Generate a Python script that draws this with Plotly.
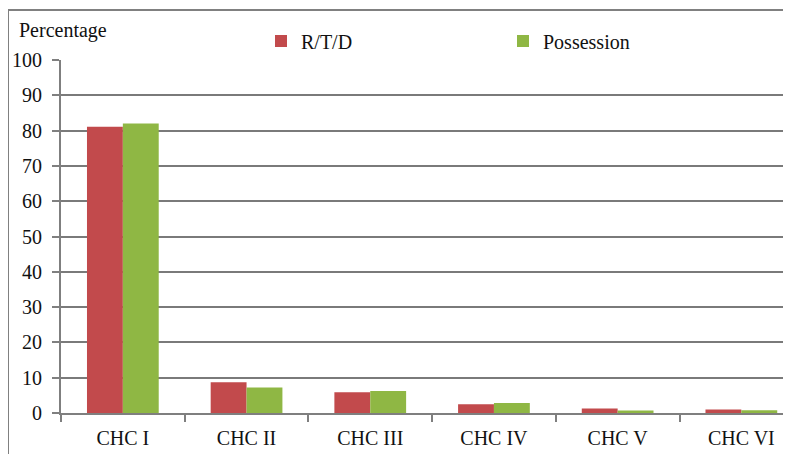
import plotly.graph_objects as go

categories = ["CHC I", "CHC II", "CHC III", "CHC IV", "CHC V", "CHC VI"]
rtd = [81.1, 8.7, 5.9, 2.5, 1.3, 1.0]
possession = [82.0, 7.2, 6.2, 2.8, 0.7, 0.8]
y_ticks = [0, 10, 20, 30, 40, 50, 60, 70, 80, 90, 100]

# page has an 8px body margin: figure is offset by 8px
OFF = 8
W, H = 791 - OFF, 454 - OFF
L, T, B, R = 61 - OFF, 60 - OFF, 41, 0
pw, ph = W - L - R, H - T - B

font = "Liberation Serif"

fig = go.Figure()
fig.add_bar(name="R/T/D", x=categories, y=rtd, marker=dict(color="#C24A4C", line=dict(width=0)))
fig.add_bar(name="Possession", x=categories, y=possession, marker=dict(color="#8FB744", line=dict(width=0)))

cat_px = 123.7
right_val = -0.5 + pw / cat_px


def px_x(x):
    return (x - OFF - L) / pw


def px_y(y):
    return 1 - (y - OFF - T) / ph


fig.update_layout(
    width=W, height=H,
    margin=dict(l=L, r=R, t=T, b=B, pad=0, autoexpand=False),
    paper_bgcolor="white", plot_bgcolor="white",
    barmode="group", bargap=0.42, bargroupgap=0,
    font=dict(family=font, size=19, color="#111111"),
    showlegend=True,
    legend=dict(orientation="h", xref="container", yref="container",
                x=(261 - OFF) / W, xanchor="left",
                y=1 - (41 - OFF) / H, yanchor="middle",
                entrywidth=197, entrywidthmode="pixels",
                itemwidth=30, font=dict(size=20, family=font, color="#111111"),
                bgcolor="rgba(0,0,0,0)", traceorder="normal"),
    xaxis=dict(range=[-0.5, right_val], showline=True, linecolor="#7f7f7f", linewidth=2,
               ticks="outside", tickson="boundaries", ticklen=7, tickcolor="#7f7f7f", tickwidth=2,
               showgrid=False, tickfont=dict(size=20, family=font, color="#111111"),
               ticklabelstandoff=6, automargin=False),
    yaxis=dict(range=[0, 100], tickvals=y_ticks, showline=True, linecolor="#7f7f7f", linewidth=2,
               ticks="outside", ticklen=7, tickcolor="#7f7f7f", tickwidth=2,
               showgrid=True, gridcolor="#7a7a7a", gridwidth=1.5, zeroline=False,
               tickfont=dict(size=20, family=font, color="#111111"),
               ticklabelstandoff=6, automargin=False),
    annotations=[dict(text="Percentage", xref="paper", yref="paper",
                      x=px_x(17), y=px_y(30), xanchor="left", yanchor="middle",
                      showarrow=False, font=dict(size=20, family=font, color="#111111"))],
    shapes=[
        dict(type="rect", xref="paper", yref="paper", layer="above",
             x0=px_x(8), x1=px_x(830), y0=px_y(10), y1=px_y(480),
             line=dict(color="#808080", width=2), fillcolor="rgba(0,0,0,0)"),
    ],
)

fig.write_html("out.html")
